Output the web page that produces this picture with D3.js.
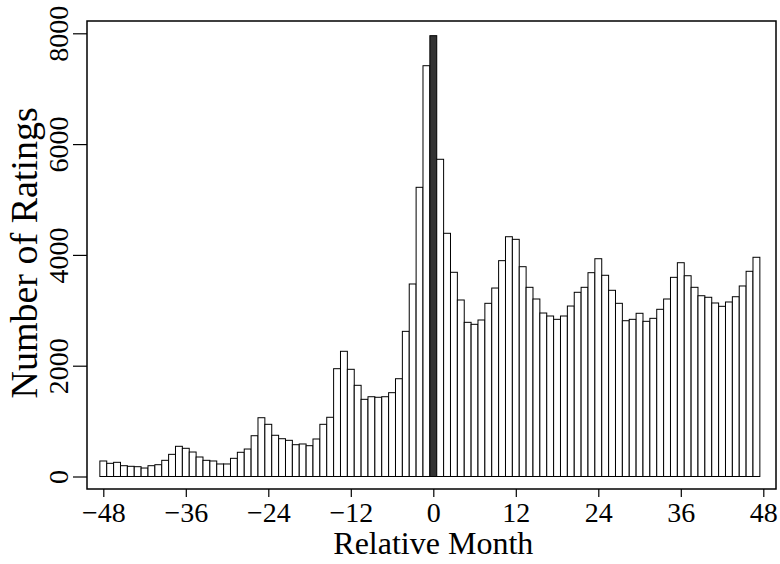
<!DOCTYPE html>
<html>
<head>
<meta charset="utf-8">
<script src="https://cdn.jsdelivr.net/npm/d3@7"></script>
<style>
  body { margin: 0; background: #fff; }
  text { font-family: "Liberation Serif", "DejaVu Serif", serif; fill: #000; }
</style>
</head>
<body>
<div id="root"></div>
<script>
// relative months -48 .. 47
const months = d3.range(-48, 48);
const ratings = [
  280, 238, 256, 195, 184, 177, 153, 195, 213, 292, 400, 545,
  509, 442, 352, 292, 280, 226, 226, 328, 437, 496, 736, 1061,
  942, 744, 682, 653, 574, 587, 556, 677, 942, 1069, 1946, 2260,
  1935, 1646, 1393, 1440, 1430, 1440, 1513, 1765, 2620, 3475, 5220, 7415,
  7957, 5726, 4390, 3686, 3186, 2783, 2747, 2825, 3126, 3402, 3896, 4328,
  4281, 3787, 3415, 3204, 2951, 2897, 2837, 2897, 3077, 3325, 3415, 3679,
  3931, 3632, 3361, 3126, 2812, 2837, 2946, 2801, 2855, 3018, 3204, 3595,
  3859, 3624, 3415, 3263, 3235, 3132, 3072, 3150, 3245, 3439, 3704, 3957
];
const xTicks = [-48, -36, -24, -12, 0, 12, 24, 36, 48];
const yTicks = [0, 2000, 4000, 6000, 8000];
const highlightMonth = 0;

const width = 780, height = 564;
const svg = d3.select('#root').append('svg')
  .attr('width', width)
  .attr('height', height);

const x = d3.scaleLinear().domain([-48, 48]).range([103.3, 763.3]);
const y = d3.scaleLinear().domain([0, 8000]).range([476.5, 33.3]);
const bw = x(1) - x(0);

// frame
svg.append('rect')
  .attr('x', 87).attr('y', 21)
  .attr('width', 689).attr('height', 468)
  .attr('fill', 'none').attr('stroke', '#000').attr('stroke-width', 1.5);

// bars
svg.append('g').selectAll('rect')
  .data(months.map((m, i) => ({ m: m, v: ratings[i] })))
  .join('rect')
  .attr('x', d => x(d.m) - bw / 2)
  .attr('y', d => y(d.v))
  .attr('width', bw)
  .attr('height', d => y(0) - y(d.v))
  .attr('fill', d => d.m === highlightMonth ? '#333' : '#fff')
  .attr('stroke', '#000')
  .attr('stroke-width', 1);

// x axis
const xAxis = svg.append('g')
  .attr('transform', 'translate(0,489)')
  .call(d3.axisBottom(x).tickValues(xTicks).tickSize(8).tickPadding(5)
    .tickFormat(d => d < 0 ? '\u2212' + Math.abs(d) : d));
xAxis.select('.domain').remove();
xAxis.selectAll('line').attr('stroke', '#000').attr('stroke-width', 1.2);
xAxis.selectAll('text').attr('font-size', 28).attr('font-family', 'Liberation Serif');

// y axis
const yAxis = svg.append('g')
  .attr('transform', 'translate(87,0)')
  .call(d3.axisLeft(y).tickValues(yTicks).tickSize(14).tickFormat(d3.format('d')));
yAxis.select('.domain').remove();
yAxis.selectAll('line').attr('stroke', '#000').attr('stroke-width', 1.2);
yAxis.selectAll('text')
  .attr('font-size', 28)
  .attr('font-family', 'Liberation Serif')
  .attr('text-anchor', 'middle')
  .attr('x', null).attr('dy', null)
  .attr('transform', 'translate(-19,0) rotate(-90)');

// titles
svg.append('text')
  .attr('x', (x(-48) + x(48)) / 2)
  .attr('y', 554)
  .attr('text-anchor', 'middle')
  .attr('font-size', 32)
  .text('Relative Month');

svg.append('text')
  .attr('transform', 'translate(37,' + (y(4000) - 2) + ') rotate(-90)')
  .attr('text-anchor', 'middle')
  .attr('font-size', 38)
  .text('Number of Ratings');
</script>
</body>
</html>
